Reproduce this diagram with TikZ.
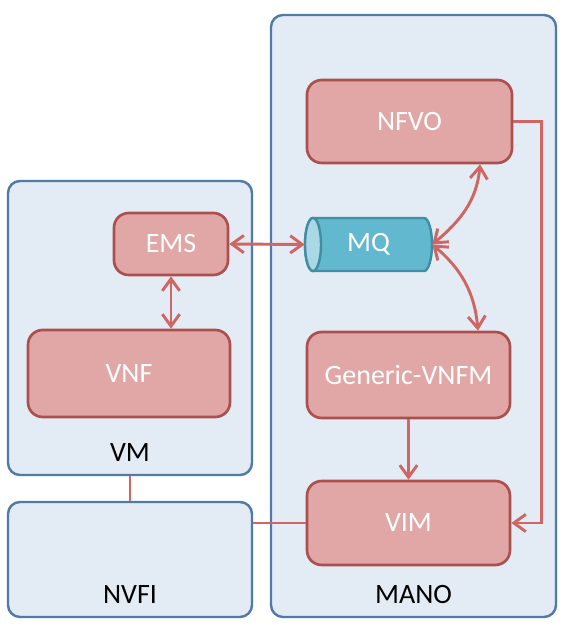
\documentclass[tikz,border=0pt]{standalone}
\usepackage{fontspec}
\setmainfont{Carlito}
\usetikzlibrary{arrows.meta}
\definecolor{contfill}{RGB}{227,235,245}
\definecolor{contline}{RGB}{80,122,168}
\definecolor{boxfill}{RGB}{224,167,166}
\definecolor{boxline}{RGB}{172,80,77}
\definecolor{linkred}{RGB}{207,102,99}
\definecolor{mqfill}{RGB}{98,184,206}
\definecolor{mqend}{RGB}{170,216,229}
\definecolor{mqline}{RGB}{63,142,163}

\begin{document}
\begin{tikzpicture}[x=0.75pt,y=0.75pt,
  container/.style={draw=contline,fill=contfill,line width=1.8pt,rounded corners=9pt,inner sep=0pt},
  func/.style={draw=boxline,fill=boxfill,line width=2pt,rounded corners=11pt,text=white,font=\fontsize{21}{25}\selectfont},
  lbl/.style={font=\fontsize{21}{25}\selectfont,inner sep=0.75pt},
  link/.style={draw=linkred,line width=2.2pt},
  tip/.style={-{Straight Barb[length=9pt,width=13pt]}},
  twotip/.style={{Straight Barb[length=9pt,width=13pt]}-{Straight Barb[length=9pt,width=13pt]}}]
\useasboundingbox (0,0) rectangle (571,627);

%Shape: Containers
\node [container,minimum width=213.75pt,minimum height=451.5pt] (mano) at (413.5,311) {};
\node [container,minimum width=183pt,minimum height=220.5pt] (vm) at (130,299) {};
\node [container,minimum width=183pt,minimum height=86.25pt] (nvfi) at (130,67.5) {};

%Shape: Function boxes
\node [func,minimum width=153.75pt,minimum height=62.25pt] (nfvo) at (409.5,505.5) {NFVO};
\node [func,minimum width=85.5pt,minimum height=46.5pt] (ems) at (171,383) {EMS};
\node [func,minimum width=151.5pt,minimum height=65.25pt] (vnf) at (129,253.5) {VNF};
\node [func,minimum width=152.25pt,minimum height=64.5pt] (vnfm) at (408.5,252) {Generic-VNFM};
\node [func,minimum width=152.25pt,minimum height=63pt] (vim) at (408.5,104) {VIM};

%Shape: Cylinder
\draw [draw=mqline,fill=mqfill,line width=1.8pt] (313,409) -- (424,409) arc [start angle=90,end angle=-90,x radius=8,y radius=26.5] -- (313,356) arc [start angle=270,end angle=90,x radius=8,y radius=26.5] -- cycle ;
\draw [draw=mqline,fill=mqend,line width=1.8pt] (313,382.5) ellipse [x radius=8,y radius=26.5] ;
\node [lbl,text=white,minimum width=95.25pt,minimum height=39.75pt] (mq) at (368.5,382.5) {MQ};

%Arrow ends on the NFVO and Generic-VNFM boxes
\coordinate (nfvoin) at ([xshift=52.9pt]nfvo.south);
\coordinate (vnfmin) at ([xshift=52.1pt]vnfm.north);

%Straight Lines
\draw [link,twotip] (ems.east) -- (mq.west) ;
\draw [link,twotip] (ems.south) -- (ems.south |- vnf.north) ;
\draw [link,tip] (vnfm.south) -- (vim.north) ;
\draw [link,tip] (nfvo.east) -- ++(28,0) |- (vim.east) ;
\draw [link] (vm.south) -- (nvfi.north) ;
\draw [link] (vim.west) -- (vim.west -| nvfi.east) ;
%Curve Lines
\draw [link,twotip] (mq.east) to [out=40,in=-95] (nfvoin) ;
\draw [link,twotip] (mq.east) to [out=-40,in=95] (vnfmin) ;

% Text Node
\node [lbl] (vmlbl) at (130,174) {VM};
% Text Node
\node [lbl] (nvfilbl) at (130,32) {NVFI};
% Text Node
\node [lbl] (manolbl) at (413.5,32) {MANO};
\end{tikzpicture}
\end{document}
